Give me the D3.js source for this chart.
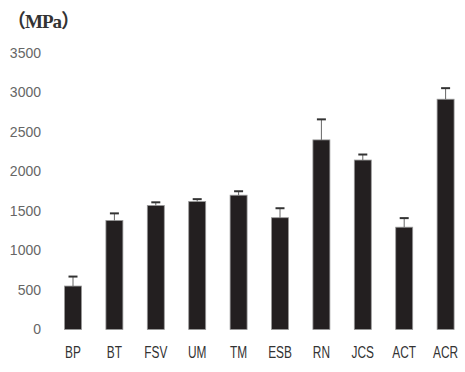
<!DOCTYPE html>
<html>
<head>
<meta charset="utf-8">
<script src="https://cdn.jsdelivr.net/npm/d3@7"></script>
<style>
  body { margin: 0; background: #fff; }
  svg { display: block; }
</style>
</head>
<body>
<div id="chart"></div>
<script>
// data
const categories = ["BP", "BT", "FSV", "UM", "TM", "ESB", "RN", "JCS", "ACT", "ACR"];
const strength = [550, 1380, 1570, 1620, 1700, 1415, 2400, 2145, 1295, 2915];
const errors = [120, 90, 40, 30, 50, 120, 260, 70, 115, 140];
const yTicks = [0, 500, 1000, 1500, 2000, 2500, 3000, 3500];

const width = 465, height = 372;

const svg = d3.select("#chart").append("svg")
    .attr("width", width)
    .attr("height", height);

const x = d3.scaleBand()
    .domain(categories)
    .range([52.3, 466.3])
    .paddingInner(0.59)
    .paddingOuter(0.295);

const y = d3.scaleLinear()
    .domain([0, 3500])
    .range([329.5, 53]);

// unit label
svg.append("text")
    .attr("x", 7)
    .attr("y", 28)
    .style("font-family", "'Liberation Serif', 'Noto Sans CJK JP', serif")
    .style("font-size", "19px")
    .style("font-weight", "bold")
    .style("letter-spacing", "-1px")
    .style("fill", "#333")
    .text("（MPa）");

// y tick labels only, no axis line
svg.append("g")
    .selectAll("text")
    .data(yTicks)
    .join("text")
    .attr("x", 41)
    .attr("y", d => y(d))
    .attr("dy", "0.35em")
    .attr("text-anchor", "end")
    .style("font-family", "'Liberation Sans', Arial, sans-serif")
    .style("font-size", "14px")
    .style("fill", "#666")
    .text(d => d);

// bars
svg.append("g")
    .selectAll("rect")
    .data(categories)
    .join("rect")
    .attr("x", d => x(d))
    .attr("width", x.bandwidth())
    .attr("y", (d, i) => y(strength[i]))
    .attr("height", (d, i) => y(0) - y(strength[i]))
    .style("fill", "#231f20")
    .style("stroke", "#999")
    .style("stroke-width", 0.8);

// upper error whiskers
const err = svg.append("g");
err.selectAll("line.stem")
    .data(categories)
    .join("line")
    .attr("class", "stem")
    .attr("x1", d => x(d) + x.bandwidth() / 2)
    .attr("x2", d => x(d) + x.bandwidth() / 2)
    .attr("y1", (d, i) => y(strength[i]))
    .attr("y2", (d, i) => y(strength[i] + errors[i]))
    .style("stroke", "#666")
    .style("stroke-width", 1);

err.selectAll("line.cap")
    .data(categories)
    .join("line")
    .attr("class", "cap")
    .attr("x1", d => x(d) + x.bandwidth() / 2 - 4.5)
    .attr("x2", d => x(d) + x.bandwidth() / 2 + 4.5)
    .attr("y1", (d, i) => y(strength[i] + errors[i]))
    .attr("y2", (d, i) => y(strength[i] + errors[i]))
    .style("stroke", "#333")
    .style("stroke-width", 2);

// category labels, squeezed to the narrow face used in the original
svg.append("g")
    .selectAll("text")
    .data(categories)
    .join("text")
    .attr("transform", d => `translate(${x(d) + x.bandwidth() / 2},358) scale(0.72,1)`)
    .attr("text-anchor", "middle")
    .style("font-family", "'Liberation Sans', Arial, sans-serif")
    .style("font-size", "16.5px")
    .style("fill", "#333")
    .text(d => d);
</script>
</body>
</html>
